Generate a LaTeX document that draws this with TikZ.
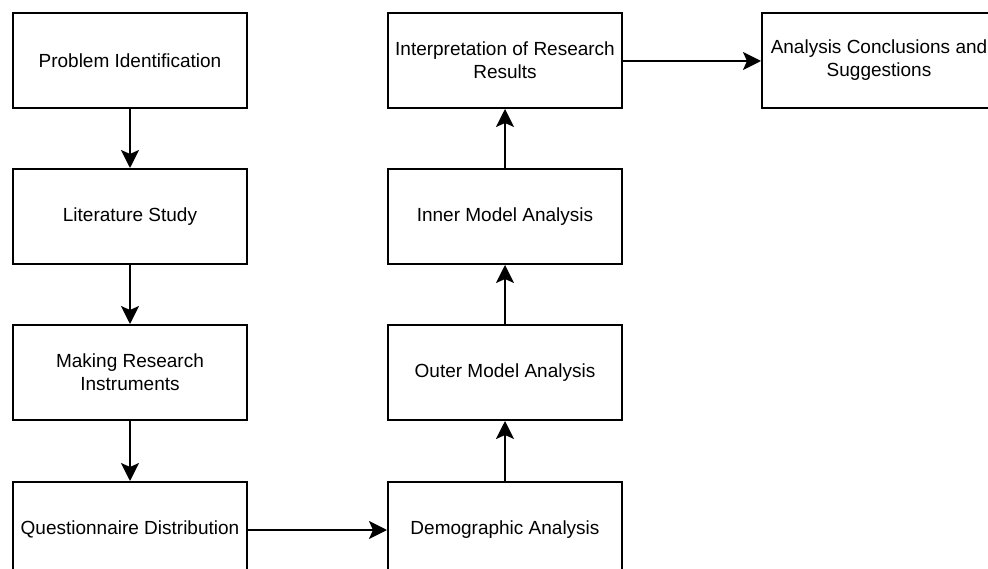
\documentclass[tikz,border=0pt]{standalone}
\usepackage{fontspec}
\setmainfont{Liberation Sans}
\usetikzlibrary{arrows.meta}
\tikzset{
  box/.style={draw=black, line width=2pt, fill=white, rectangle, minimum width=234pt, minimum height=95pt, inner sep=0pt, align=center, font=\fontsize{19}{23}\selectfont},
  conn/.style={line width=2pt, -{Stealth[length=18pt,width=18pt,inset=4pt]}}
}
\begin{document}
\begin{tikzpicture}[x=1pt,y=-1pt]
\clip (0,0) rectangle (988,569);
\fill[white] (0,0) rectangle (988,569);
\node[box] (pi) at (130,60.5) {Problem Identification};
\node[box] (ls) at (130,216.5) {Literature Study};
\node[box] (mr) at (130,372.5) {Making Research\\Instruments};
\node[box] (qd) at (130,529.5) {Questionnaire Distribution};
\node[box] (da) at (505,529.5) {Demographic Analysis};
\node[box] (om) at (505,372.5) {Outer Model Analysis};
\node[box] (im) at (505,216.5) {Inner Model Analysis};
\node[box] (ir) at (505,60.5) {Interpretation of Research\\Results};
\node[box] (ac) at (879,60.5) {Analysis Conclusions and\\Suggestions};
\draw[conn] (pi) -- (ls);
\draw[conn] (ls) -- (mr);
\draw[conn] (mr) -- (qd);
\draw[conn] (qd.east |- 0,530) -- (da.west |- 0,530);
\draw[conn] (da) -- (om);
\draw[conn] (om) -- (im);
\draw[conn] (im) -- (ir);
\draw[conn] (ir.east |- 0,61) -- (ac.west |- 0,61);
\end{tikzpicture}
\end{document}
